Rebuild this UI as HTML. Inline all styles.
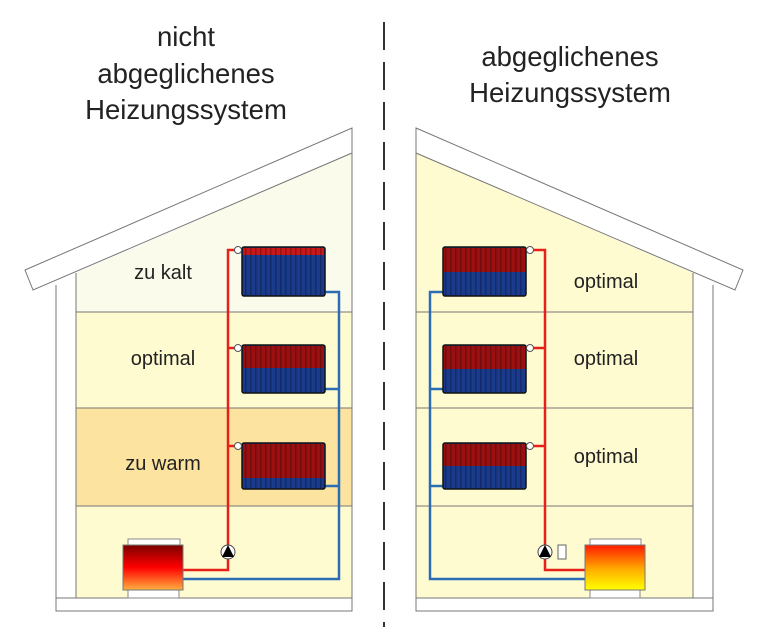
<!DOCTYPE html>
<html><head><meta charset="utf-8"><style>
html,body{margin:0;padding:0;background:#fff}
svg{display:block}
text{font-family:"Liberation Sans",sans-serif;fill:#222}
</style></head><body>
<svg width="768" height="627" viewBox="0 0 768 627" xmlns="http://www.w3.org/2000/svg">
<defs>
<pattern id="st" width="5" height="10" patternUnits="userSpaceOnUse">
<rect x="0" y="0" width="1.5" height="10" fill="#000" opacity="0.25"/>
</pattern>
<linearGradient id="b1" x1="0" y1="0" x2="0" y2="1">
<stop offset="0" stop-color="#7a0000"/><stop offset="0.5" stop-color="#ff0000"/><stop offset="1" stop-color="#ffb040"/>
</linearGradient>
<linearGradient id="b2" x1="0" y1="0" x2="0" y2="1">
<stop offset="0" stop-color="#ff1a00"/><stop offset="0.55" stop-color="#ffb000"/><stop offset="1" stop-color="#ffff00"/>
</linearGradient>
</defs>

<g font-size="27.5" text-anchor="middle">
<text x="186" y="46">nicht</text>
<text x="186" y="83">abgeglichenes</text>
<text x="186" y="119">Heizungssystem</text>
<text x="570" y="66">abgeglichenes</text>
<text x="570" y="102">Heizungssystem</text>
</g>
<line x1="384" y1="22" x2="384" y2="627" stroke="#333" stroke-width="2" stroke-dasharray="28,12"/>

<!-- LEFT HOUSE -->
<polygon points="76,273 352,153 352,312 76,312" fill="#fafbeb"/>
<rect x="76" y="312" width="276" height="96" fill="#fffbd0"/>
<rect x="76" y="408" width="276" height="98" fill="#fde3a0"/>
<rect x="76" y="506" width="276" height="92" fill="#fffbd0"/>
<g stroke="#777" stroke-width="1" fill="none">
<line x1="76" y1="312" x2="352" y2="312"/>
<line x1="76" y1="408" x2="352" y2="408"/>
<line x1="76" y1="506" x2="352" y2="506"/>
<polyline points="56,285 56,611 352,611 352,153"/>
<line x1="76" y1="273" x2="76" y2="598"/>
<line x1="56" y1="598" x2="352" y2="598"/>
</g>
<polygon points="25,270 352,128 352,153 33,290" fill="#fff" stroke="#777" stroke-width="1"/>

<!-- right house -->
<polygon points="416,153 693,273 693,312 416,312" fill="#fffbd0"/>
<rect x="416" y="312" width="277" height="96" fill="#fffbd0"/>
<rect x="416" y="408" width="277" height="98" fill="#fffbd0"/>
<rect x="416" y="506" width="277" height="92" fill="#fffbd0"/>
<g stroke="#777" stroke-width="1" fill="none">
<line x1="416" y1="312" x2="693" y2="312"/>
<line x1="416" y1="408" x2="693" y2="408"/>
<line x1="416" y1="506" x2="693" y2="506"/>
<polyline points="713,285 713,611 416,611 416,153"/>
<line x1="693" y1="273" x2="693" y2="598"/>
<line x1="416" y1="598" x2="713" y2="598"/>
</g>
<polygon points="416,128 743,270 735,290 416,153" fill="#fff" stroke="#777" stroke-width="1"/>

<g font-size="20" text-anchor="middle">
<text x="163" y="279">zu kalt</text>
<text x="163" y="365">optimal</text>
<text x="163" y="470">zu warm</text>
<text x="606" y="288">optimal</text>
<text x="606" y="365">optimal</text>
<text x="606" y="463">optimal</text>
</g>

<g fill="none" stroke-width="2.5">
<polyline points="238,250 228,250 228,570 183,570" stroke="#e8201a"/>
<line x1="228" y1="348" x2="238" y2="348" stroke="#e8201a"/>
<line x1="228" y1="446" x2="238" y2="446" stroke="#e8201a"/>
<polyline points="325,292 339,292 339,579 183,579" stroke="#2a6db5"/>
<line x1="325" y1="389" x2="339" y2="389" stroke="#2a6db5"/>
<line x1="325" y1="486" x2="339" y2="486" stroke="#2a6db5"/>
</g>
<g stroke="#111" stroke-width="1.5">
<rect x="242" y="247" width="83" height="49" rx="2" fill="#1a3a8c"/>
<rect x="243" y="248" width="81" height="7" fill="#c81818" stroke="none"/>
<rect x="242" y="345" width="83" height="48" rx="2" fill="#1a3a8c"/>
<rect x="243" y="346" width="81" height="22" fill="#9a1010" stroke="none"/>
<rect x="242" y="443" width="83" height="46" rx="2" fill="#1a3a8c"/>
<rect x="243" y="444" width="81" height="34" fill="#9a1010" stroke="none"/>
</g>
<rect x="243" y="248" width="81" height="47" fill="url(#st)"/>
<rect x="243" y="346" width="81" height="46" fill="url(#st)"/>
<rect x="243" y="444" width="81" height="44" fill="url(#st)"/>
<g fill="#fff" stroke="#555" stroke-width="1">
<circle cx="238" cy="250" r="3.5"/><circle cx="238" cy="348" r="3.5"/><circle cx="238" cy="446" r="3.5"/>
</g>
<circle cx="228" cy="552" r="7" fill="#fff" stroke="#444"/>
<polygon points="228,545 222,557 234,557" fill="#000"/>
<rect x="128" y="539" width="52" height="7" fill="#fff" stroke="#888"/>
<rect x="128" y="590" width="51" height="8" fill="#fff" stroke="#888"/>
<rect x="123" y="545" width="60" height="45" fill="url(#b1)" stroke="#777"/>

<g fill="none" stroke-width="2.5">
<polyline points="531,250 545,250 545,570 585,570" stroke="#e8201a"/>
<line x1="531" y1="348" x2="545" y2="348" stroke="#e8201a"/>
<line x1="531" y1="446" x2="545" y2="446" stroke="#e8201a"/>
<polyline points="443,292 430,292 430,579 585,579" stroke="#2a6db5"/>
<line x1="443" y1="389" x2="430" y2="389" stroke="#2a6db5"/>
<line x1="443" y1="486" x2="430" y2="486" stroke="#2a6db5"/>
</g>
<g stroke="#111" stroke-width="1.5">
<rect x="443" y="247" width="83" height="49" rx="2" fill="#1a3a8c"/>
<rect x="444" y="248" width="81" height="24" fill="#9a1010" stroke="none"/>
<rect x="443" y="345" width="83" height="48" rx="2" fill="#1a3a8c"/>
<rect x="444" y="346" width="81" height="23" fill="#9a1010" stroke="none"/>
<rect x="443" y="443" width="83" height="46" rx="2" fill="#1a3a8c"/>
<rect x="444" y="444" width="81" height="22" fill="#9a1010" stroke="none"/>
</g>
<rect x="444" y="248" width="81" height="47" fill="url(#st)"/>
<rect x="444" y="346" width="81" height="46" fill="url(#st)"/>
<rect x="444" y="444" width="81" height="44" fill="url(#st)"/>
<g fill="#fff" stroke="#555" stroke-width="1">
<circle cx="530" cy="250" r="3.5"/><circle cx="530" cy="348" r="3.5"/><circle cx="530" cy="446" r="3.5"/>
</g>
<circle cx="545" cy="552" r="7" fill="#fff" stroke="#444"/>
<polygon points="545,545 539,557 551,557" fill="#000"/>
<rect x="558" y="545" width="8" height="14" fill="#fff" stroke="#666"/>
<rect x="590" y="539" width="51" height="7" fill="#fff" stroke="#888"/>
<rect x="590" y="590" width="50" height="8" fill="#fff" stroke="#888"/>
<rect x="585" y="545" width="60" height="45" fill="url(#b2)" stroke="#777"/>
</svg>
</body></html>
